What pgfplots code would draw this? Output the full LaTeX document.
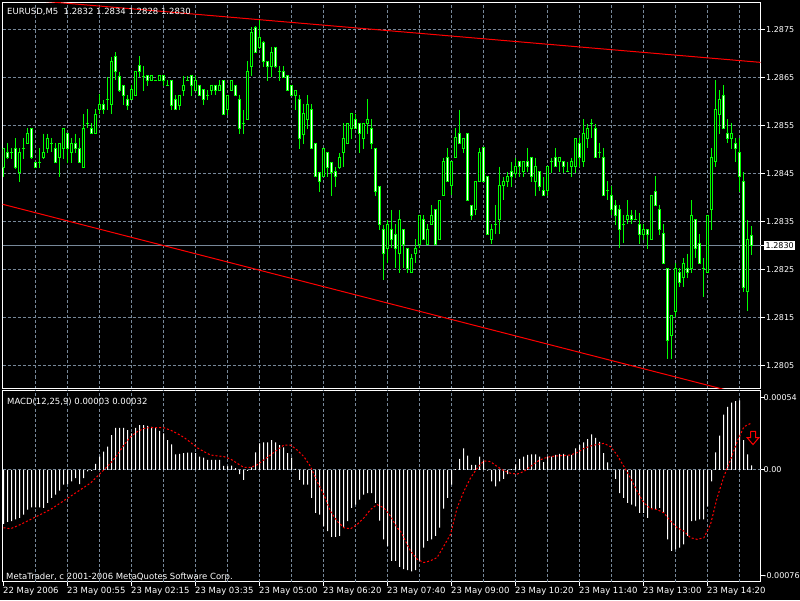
\documentclass[border=0pt]{standalone}
\usepackage{fontspec}
\setmainfont{DejaVu Sans}
\usepackage{pgfplots}
\usepackage{pgfplotstable}
\pgfplotsset{compat=1.18}
\definecolor{mtlime}{RGB}{0,255,0}
\definecolor{mtgrid}{RGB}{119,136,153}
\definecolor{mtred}{RGB}{255,0,0}
\newcommand{\mtf}{\fontsize{8.5}{10}\selectfont}
\newcommand{\mtt}{\fontsize{8}{10}\selectfont}

\pgfplotstableread{
i O H L C
0 1.28462 1.28502 1.28443 1.28502
1 1.28494 1.285125 1.28481 1.28483
2 1.28494 1.28503 1.28481 1.28494
3 1.28502 1.28523 1.28460 1.28462
4 1.28451 1.28503 1.28433 1.28494
5 1.28502 1.28523 1.28481 1.28502
6 1.285125 1.28544 1.28512 1.28533
7 1.28544 1.28544 1.28481 1.28483
8 1.28473 1.28473 1.28462 1.28462
9 1.28473 1.28502 1.28462 1.28473
10 1.28483 1.28533 1.28481 1.28494
11 1.28502 1.28533 1.28492 1.28523
12 1.285125 1.28523 1.28495 1.285125
13 1.28502 1.285125 1.28471 1.28473
14 1.28483 1.285125 1.28443 1.285125
15 1.28502 1.28544 1.28481 1.28544
16 1.28533 1.28533 1.28471 1.28502
17 1.28494 1.28523 1.28471 1.285125
18 1.285125 1.28533 1.28492 1.28502
19 1.28502 1.28523 1.28471 1.28473
20 1.28462 1.28573 1.28462 1.28544
21 1.28554 1.28584 1.28544 1.28554
22 1.28544 1.28554 1.28533 1.28533
23 1.28533 1.28584 1.28533 1.28573
24 1.28583 1.28615 1.28573 1.28594
25 1.28594 1.28603 1.28573 1.28583
26 1.28604 1.28651 1.28582 1.28604
27 1.28594 1.28693 1.28573 1.28684
28 1.28693 1.28702 1.28644 1.28662
29 1.28651 1.28662 1.28620 1.28622
30 1.28633 1.28633 1.28592 1.28612
31 1.28604 1.28613 1.28583 1.28592
32 1.28603 1.28634 1.28603 1.28624
33 1.286125 1.28663 1.28611 1.28663
34 1.28674 1.28694 1.28651 1.28663
35 1.28651 1.28674 1.28622 1.28651
36 1.28653 1.28653 1.28633 1.28643
37 1.28643 1.28653 1.28643 1.28653
38 1.28644 1.28644 1.28644 1.28644
39 1.28643 1.28653 1.28643 1.28653
40 1.28653 1.28653 1.28633 1.28643
41 1.28633 1.28644 1.28632 1.28633
42 1.28644 1.28644 1.28583 1.28592
43 1.28604 1.28613 1.28582 1.28583
44 1.28592 1.28613 1.28582 1.28613
45 1.28622 1.28653 1.28611 1.28634
46 1.28644 1.28653 1.28643 1.28644
47 1.28653 1.28653 1.28611 1.28633
48 1.28622 1.28653 1.28622 1.28643
49 1.28634 1.28634 1.286125 1.286125
50 1.28624 1.28624 1.28592 1.28603
51 1.286125 1.28624 1.28603 1.286125
52 1.28622 1.28634 1.286125 1.28634
53 1.28634 1.28634 1.286125 1.28622
54 1.28622 1.28644 1.28622 1.28634
55 1.28644 1.28644 1.28572 1.28573
56 1.28583 1.28613 1.28572 1.28613
57 1.28622 1.28644 1.28622 1.28644
58 1.28634 1.28634 1.28611 1.286125
59 1.28604 1.28613 1.28533 1.28543
60 1.28554 1.28583 1.28533 1.28554
61 1.285625 1.28684 1.285625 1.28663
62 1.28672 1.28754 1.28653 1.28744
63 1.28754 1.28756 1.28700 1.28701
64 1.28712 1.28769 1.28710 1.28733
65 1.28723 1.28725 1.28672 1.28683
66 1.286825 1.28683 1.28643 1.28672
67 1.28672 1.28714 1.28651 1.28702
68 1.287125 1.28713 1.28670 1.28672
69 1.286625 1.28674 1.28643 1.286625
70 1.286625 1.28674 1.28650 1.28650
71 1.28653 1.28653 1.28622 1.28622
72 1.28633 1.28633 1.286125 1.286125
73 1.286125 1.28623 1.28582 1.28623
74 1.28604 1.28613 1.28501 1.28522
75 1.28532 1.28594 1.28511 1.28574
76 1.285625 1.28613 1.28542 1.28594
77 1.28583 1.28594 1.28500 1.28501
78 1.285125 1.285125 1.28443 1.28443
79 1.28451 1.28451 1.28412 1.28433
80 1.28443 1.28502 1.28443 1.28502
81 1.28493 1.28493 1.28443 1.284625
82 1.28472 1.28472 1.28403 1.28451
83 1.28453 1.284625 1.28422 1.28443
84 1.284625 1.28493 1.28460 1.28483
85 1.28493 1.28554 1.284625 1.28523
86 1.285125 1.28554 1.285125 1.28554
87 1.28543 1.28574 1.28522 1.28574
88 1.285625 1.28574 1.28543 1.28543
89 1.28554 1.28554 1.28493 1.28533
90 1.28522 1.28554 1.28501 1.28554
91 1.28553 1.28604 1.28533 1.285625
92 1.28544 1.285625 1.28501 1.285125
93 1.28502 1.28502 1.28403 1.28412
94 1.28423 1.28423 1.28332 1.28344
95 1.28333 1.28342 1.28228 1.28283
96 1.28294 1.28353 1.282625 1.28344
97 1.28333 1.28374 1.28294 1.283125
98 1.28323 1.28344 1.28252 1.28294
99 1.28283 1.28374 1.28243 1.28354
100 1.28333 1.28333 1.28252 1.28302
101 1.28294 1.28294 1.28243 1.28252
102 1.28243 1.28283 1.28243 1.28273
103 1.28283 1.283125 1.282625 1.28294
104 1.28302 1.28363 1.28294 1.28363
105 1.28354 1.28363 1.283125 1.283125
106 1.28302 1.28344 1.28302 1.28333
107 1.28344 1.28384 1.28344 1.28363
108 1.28374 1.28374 1.28302 1.28302
109 1.283125 1.28394 1.283125 1.28394
110 1.28404 1.28483 1.28404 1.28474
111 1.28483 1.28503 1.28434 1.28434
112 1.28424 1.28474 1.28405 1.28474
113 1.28483 1.28544 1.28483 1.28524
114 1.28533 1.28583 1.285125 1.285125
115 1.28502 1.28523 1.28493 1.28523
116 1.28533 1.28533 1.28394 1.28394
117 1.28384 1.28384 1.28353 1.28363
118 1.28374 1.28434 1.28363 1.28434
119 1.28434 1.28503 1.28434 1.28494
120 1.28503 1.28503 1.28434 1.28434
121 1.28443 1.28443 1.28323 1.28323
122 1.283125 1.28344 1.28302 1.28333
123 1.28344 1.28384 1.28323 1.28344
124 1.28354 1.28464 1.28323 1.28424
125 1.28424 1.28443 1.28394 1.28434
126 1.28433 1.28453 1.28422 1.28443
127 1.28453 1.28474 1.28422 1.28443
128 1.28450 1.28483 1.28440 1.28464
129 1.28474 1.28474 1.28443 1.28464
130 1.28453 1.28474 1.28443 1.28474
131 1.28474 1.28503 1.28453 1.28464
132 1.28483 1.28483 1.28433 1.28443
133 1.28433 1.28483 1.28403 1.28464
134 1.28453 1.28453 1.28414 1.28422
135 1.28414 1.28443 1.28403 1.28403
136 1.28414 1.28464 1.28403 1.28464
137 1.28474 1.28483 1.28450 1.28474
138 1.28483 1.28503 1.28464 1.28464
139 1.28474 1.28483 1.28453 1.28483
140 1.28474 1.28474 1.28450 1.28464
141 1.28453 1.28474 1.28453 1.28453
142 1.28464 1.28483 1.28443 1.28474
143 1.28464 1.28523 1.28450 1.28523
144 1.285125 1.28523 1.28464 1.28483
145 1.28474 1.28563 1.28464 1.28533
146 1.28523 1.28553 1.28502 1.28543
147 1.28553 1.28563 1.28523 1.28553
148 1.28543 1.28553 1.28483 1.28483
149 1.28494 1.285125 1.28483 1.28494
150 1.28483 1.28503 1.28403 1.28403
151 1.28414 1.28434 1.28394 1.28414
152 1.28403 1.28424 1.28363 1.28374
153 1.28384 1.28394 1.28342 1.28363
154 1.28374 1.28384 1.28294 1.28333
155 1.28344 1.28363 1.28304 1.28344
156 1.28354 1.28394 1.28344 1.28363
157 1.28363 1.28374 1.28344 1.28354
158 1.28354 1.28374 1.28353 1.28354
159 1.28344 1.28367 1.28302 1.28322
160 1.28322 1.28344 1.28311 1.28333
161 1.28333 1.28333 1.28293 1.28322
162 1.283125 1.28404 1.283125 1.28404
163 1.284125 1.28444 1.28383 1.28383
164 1.28374 1.28384 1.28322 1.28333
165 1.28324 1.28344 1.282625 1.282625
166 1.28252 1.28252 1.28063 1.28103
167 1.281125 1.28154 1.28063 1.28154
168 1.281625 1.282625 1.28151 1.28252
169 1.28243 1.28252 1.282125 1.28222
170 1.28233 1.28273 1.282125 1.282625
171 1.28252 1.28283 1.28233 1.28243
172 1.28252 1.28394 1.28242 1.283625
173 1.28354 1.28354 1.28273 1.28294
174 1.28303 1.28324 1.282625 1.282625
175 1.28252 1.28273 1.28193 1.28252
176 1.28243 1.283625 1.28243 1.283625
177 1.28374 1.28503 1.28333 1.28483
178 1.28474 1.28644 1.28464 1.28583
179 1.28573 1.28624 1.28533 1.28604
180 1.28613 1.28634 1.28544 1.28544
181 1.28533 1.285625 1.285125 1.28522
182 1.28522 1.28554 1.28501 1.28533
183 1.285125 1.28523 1.28474 1.28501
184 1.28494 1.28523 1.28412 1.28443
185 1.28433 1.28453 1.28203 1.282125
186 1.28203 1.28354 1.281625 1.283125
187 1.28320 1.28340 1.28280 1.28300
}\candles

\pgfplotstableread{
i m
0 -0.000367
1 -0.000354
2 -0.000349
3 -0.000338
4 -0.000327
5 -0.000304
6 -0.000270
7 -0.000255
8 -0.000255
9 -0.000255
10 -0.000259
11 -0.000225
12 -0.000191
13 -0.000169
14 -0.000142
15 -0.000101
16 -0.000097
17 -0.000079
18 -0.000056
19 -0.000097
20 -0.000056
21 -0.000011
22 -0.000007
23 0.000041
24 0.000090
25 0.000124
26 0.000158
27 0.000236
28 0.000286
29 0.000286
30 0.000286
31 0.000270
32 0.000248
33 0.000286
34 0.000304
35 0.000304
36 0.000300
37 0.000293
38 0.000286
39 0.000266
40 0.000248
41 0.000203
42 0.000173
43 0.000106
44 0.000108
45 0.000113
46 0.000117
47 0.000117
48 0.000113
49 0.000090
50 0.000083
51 0.000068
52 0.000068
53 0.000068
54 0.000068
55 0.000027
56 0.000027
57 0.000029
58 0.000011
59 -0.000029
60 -0.000068
61 -0.000007
62 0.000016
63 0.000119
64 0.000180
65 0.000187
66 0.000187
67 0.000203
68 0.000187
69 0.000169
70 0.000153
71 0.000113
72 0.000083
73 0.000007
74 -0.000068
75 -0.000101
76 -0.000101
77 -0.000191
78 -0.000293
79 -0.000304
80 -0.000383
81 -0.000417
82 -0.000457
83 -0.000457
84 -0.000450
85 -0.000390
86 -0.000349
87 -0.000259
88 -0.000236
89 -0.000203
90 -0.000169
91 -0.000158
92 -0.000158
93 -0.000225
94 -0.000345
95 -0.000473
96 -0.000518
97 -0.000619
98 -0.000619
99 -0.000660
100 -0.000676
101 -0.000682
102 -0.000691
103 -0.000682
104 -0.000619
105 -0.000529
106 -0.000484
107 -0.000473
108 -0.000450
109 -0.000394
110 -0.000264
111 -0.000191
112 -0.000101
113 0.000005
114 0.000074
115 0.000146
116 0.000097
117 0.000034
118 0.000034
119 0.000090
120 0.000061
121 -0.000005
122 -0.000079
123 -0.000113
124 -0.000079
125 -0.000061
126 -0.000029
127 0.000005
128 0.000038
129 0.000074
130 0.000090
131 0.000101
132 0.000106
133 0.000106
134 0.000090
135 0.000052
136 0.000090
137 0.000090
138 0.000101
139 0.000108
140 0.000108
141 0.000097
142 0.000101
143 0.000146
144 0.000169
145 0.000187
146 0.000209
147 0.000241
148 0.000218
149 0.000191
150 0.000113
151 0.000050
152 0.000003
153 -0.000061
154 -0.000158
155 -0.000191
156 -0.000225
157 -0.000236
158 -0.000248
159 -0.000293
160 -0.000293
161 -0.000327
162 -0.000259
163 -0.000270
164 -0.000259
165 -0.000293
166 -0.000473
167 -0.000552
168 -0.000541
169 -0.000529
170 -0.000507
171 -0.000450
172 -0.000349
173 -0.000345
174 -0.000338
175 -0.000338
176 -0.000248
177 -0.000079
178 0.000119
179 0.000232
180 0.000376
181 0.000428
182 0.000457
183 0.000468
184 0.000473
185 0.000203
186 0.000106
187 0.000030
}\macd

\pgfplotstableread{
i s
0 -0.000394
1.75 -0.000401
4.25 -0.000372
6.75 -0.000338
9.25 -0.000304
11.75 -0.000270
14.25 -0.000225
16.75 -0.000180
19.25 -0.000135
21.75 -0.000090
24.25 -0.000023
26.75 0.000045
28.4 0.000101
30.1 0.000169
31.75 0.000225
33.4 0.000259
35.1 0.000282
36.75 0.000288
38.4 0.000288
40.1 0.000286
41.75 0.000270
43.4 0.000248
45.1 0.000221
46.75 0.000187
48.4 0.000151
50.1 0.000124
51.75 0.000101
53.4 0.000095
55.1 0.000090
56.75 0.000074
58.4 0.000045
60.1 0.000016
61.75 0.000016
63.4 0.000034
65.1 0.000068
66.75 0.000101
68.4 0.000135
70.1 0.000169
71.75 0.000169
73.4 0.000135
75.1 0.000090
76.75 0.000023
78.4 -0.000079
80.1 -0.000169
81.75 -0.000282
83.4 -0.000349
85.1 -0.000394
86.75 -0.000401
88.4 -0.000372
90.1 -0.000327
91.75 -0.000270
93.4 -0.000236
95.1 -0.000259
96.75 -0.000315
98.4 -0.000394
99.25 -0.000417
100.1 -0.000462
101.75 -0.000552
103.4 -0.000608
105.1 -0.000631
106.75 -0.000619
108.4 -0.000597
110.1 -0.000518
111.75 -0.000439
113.4 -0.000259
115.1 -0.000146
116.75 -0.000056
118.4 0.000011
120.1 0.000061
121.75 0.000056
123.4 0.000023
125.1 -0.000007
126.75 -0.000023
128.4 -0.000029
130.1 -0.000011
131.75 0.000023
133.4 0.000056
135.1 0.000079
136.75 0.000090
138.4 0.000095
140.1 0.000097
141.75 0.000101
143.4 0.000117
145.1 0.000146
146.75 0.000162
148.4 0.000173
150.1 0.000180
151.75 0.000158
153.4 0.000101
155.1 0.000023
156.75 -0.000056
158.4 -0.000146
160.1 -0.000225
161.75 -0.000264
163.4 -0.000270
165.1 -0.000293
166.75 -0.000349
168.4 -0.000394
170.1 -0.000417
171.75 -0.000462
173.4 -0.000473
175.1 -0.000462
176.75 -0.000372
178.4 -0.000191
180.1 -0.000045
181.75 0.000068
183.4 0.000191
185.1 0.000293
186.75 0.000315
187 0.000320
}\signal

\pgfplotsset{
  mtaxis/.style={
    scale only axis, width=758pt,
    xmin=-0.25, xmax=189.25,
    scaled ticks=false,
    axis line style={white, line width=1pt},
    grid style={mtgrid, line width=1pt, dash pattern=on 3pt off 2pt},
    tick style={white, line width=1pt},
    major tick length=4pt, tick align=outside,
    ticklabel style={font=\mtt, text=white},
    ytick pos=right, yticklabel pos=right,
    yticklabel style={anchor=west, inner sep=0pt},
  },
  candle/.style={draw=none, mark=none, forget plot,
    error bars/y dir=minus, error bars/y explicit, error bars/error mark=none},
}

\begin{document}
\begin{tikzpicture}
\useasboundingbox (0pt,0pt) rectangle (800pt,600pt);
\fill[black] (0pt,0pt) rectangle (800pt,600pt);

\begin{axis}[mtaxis, at={(2.5pt,211.5pt)}, anchor=south west, height=386pt,
  ymin=1.28002, ymax=1.28806,
  xtick={8,16,...,184}, xticklabels={}, xmajorgrids, xtick style={draw=none},
  ytick={1.2805,1.2815,1.2825,1.2835,1.2845,1.2855,1.2865,1.2875},
  yticklabels={1.2805,1.2815,1.2825,1.2835,1.2845,1.2855,1.2865,1.2875},
  yticklabel style={xshift=1.5pt},
  ymajorgrids,
  extra y ticks={1.2830}, extra y tick labels={1.2830},
  extra y tick style={grid=none, yticklabel style={fill=white, text=black, inner xsep=1.5pt, inner ysep=1.5pt, xshift=-2pt}},
]
\addplot[mtgrid, line width=1pt, forget plot] coordinates {(-0.25,1.2830) (189.25,1.2830)};
\addplot[mtred, line width=1pt, forget plot] coordinates {(-0.25,1.288158) (189.25,1.286813)};
\addplot[mtred, line width=1pt, forget plot] coordinates {(-0.25,1.283858) (189.25,1.279806)};
% wicks
\addplot[candle, error bars/error bar style={draw=mtlime, line width=1pt}]
  table[x=i, y=H, y error minus expr={\thisrow{H}-\thisrow{L}}] {\candles};
% body outlines
\addplot[candle, error bars/error bar style={draw=mtlime, line width=3pt, shorten <=-0.5pt, shorten >=-0.5pt}]
  table[x=i, y expr={max(\thisrow{O},\thisrow{C})}, y error minus expr={abs(\thisrow{O}-\thisrow{C})}] {\candles};
% bear interiors
\addplot[candle, restrict expr to domain={\thisrow{O}-\thisrow{C}}{0.00002:1},
  error bars/error bar style={draw=white, line width=1pt, shorten <=0.5pt, shorten >=0.5pt}]
  table[x=i, y expr={max(\thisrow{O},\thisrow{C})}, y error minus expr={abs(\thisrow{O}-\thisrow{C})}] {\candles};
% bull interiors
\addplot[candle, restrict expr to domain={\thisrow{C}-\thisrow{O}}{0.00002:1},
  error bars/error bar style={draw=black, line width=1pt, shorten <=0.5pt, shorten >=0.5pt}]
  table[x=i, y expr={max(\thisrow{O},\thisrow{C})}, y error minus expr={abs(\thisrow{O}-\thisrow{C})}] {\candles};
\end{axis}

\begin{axis}[mtaxis, at={(2.5pt,18.5pt)}, anchor=south west, height=191pt,
  ymin=-0.00076, ymax=0.00054,
  xtick={0,16,...,176},
  xticklabels={22 May 2006, 23 May 00:55, 23 May 02:15, 23 May 03:35, 23 May 05:00, 23 May 06:20, 23 May 07:40, 23 May 09:00, 23 May 10:20, 23 May 11:40, 23 May 13:00, 23 May 14:20},
  xtick pos=bottom,
  xticklabel style={anchor=north west, inner sep=0pt, xshift=-0.5pt, yshift=-1pt, font=\mtf},
  extra x ticks={8,16,...,184}, extra x tick labels={},
  extra x tick style={grid=major, tick style={draw=none}},
  ytick={-0.000721,0,0.000491},
  yticklabels={-0.00076,0.00,0.00054},
  yticklabel style={xshift=-1pt},
]
\addplot[mtgrid, line width=1pt, dash pattern=on 3pt off 2pt, forget plot] coordinates {(-0.25,0) (189.25,0)};
\addplot[ybar, bar width=1pt, bar shift=0pt, fill=white, draw=none, forget plot] table[x=i, y=m] {\macd};
\addplot[mtred, line width=1pt, dash pattern=on 2pt off 2pt, forget plot] table[x=i, y=s] {\signal};
% down-arrow object on the indicator window
\addplot[mtred, line width=1pt, forget plot] coordinates {
  (186.75,0.000261) (188.0,0.000261) (188.0,0.000220) (188.875,0.000220)
  (187.375,0.000172) (185.875,0.000220) (186.75,0.000220) (186.75,0.000261)};
\end{axis}

\node[anchor=base west, inner sep=0pt, text=white, font=\mtf] at (7pt,585.5pt) {EURUSD,M5\ \ 1.2832 1.2834 1.2828 1.2830};
\node[anchor=base west, inner sep=0pt, text=white, font=\mtf] at (7pt,195.7pt) {MACD(12,25,9) 0.00003 0.00032};
\node[anchor=base west, inner sep=0pt, text=white, font=\mtf] at (6pt,21pt) {MetaTrader, c 2001-2006 MetaQuotes Software Corp.};
\end{tikzpicture}
\end{document}
